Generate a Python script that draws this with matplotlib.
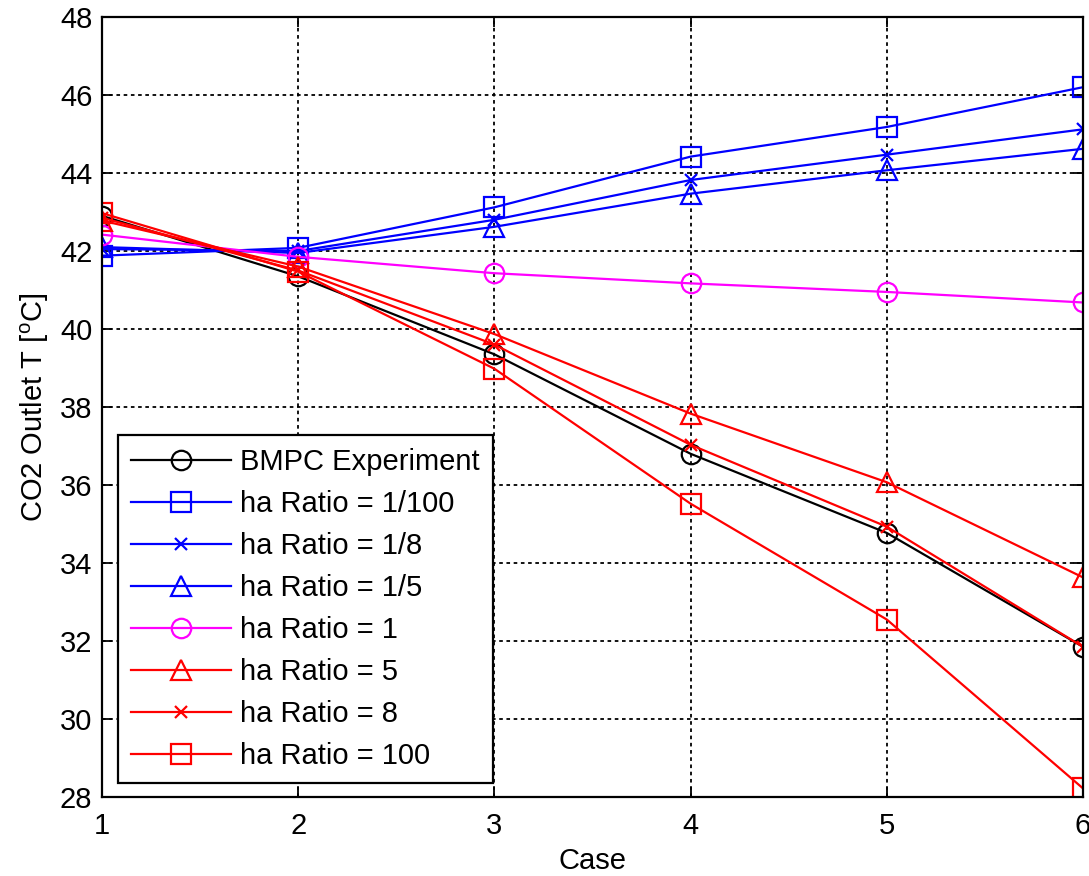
import matplotlib
matplotlib.use('Agg')
import matplotlib.pyplot as plt

plt.rcParams['font.family'] = ['Liberation Sans', 'DejaVu Sans']
plt.rcParams['mathtext.fontset'] = 'custom'
plt.rcParams['mathtext.rm'] = 'Liberation Sans'

# values
case = [1, 2, 3, 4, 5, 6]
bmpc = [42.9, 41.35, 39.35, 36.8, 34.77, 31.85]
ratio_1_100 = [41.88, 42.08, 43.12, 44.42, 45.18, 46.2]
ratio_1_8 = [42.05, 42.0, 42.8, 43.82, 44.47, 45.12]
ratio_1_5 = [42.1, 41.95, 42.62, 43.47, 44.07, 44.62]
ratio_1 = [42.42, 41.85, 41.43, 41.17, 40.95, 40.68]
ratio_5 = [42.78, 41.6, 39.87, 37.83, 36.07, 33.63]
ratio_8 = [42.85, 41.5, 39.6, 37.03, 34.93, 31.85]
ratio_100 = [42.97, 41.47, 38.98, 35.52, 32.55, 28.22]

fig = plt.figure(figsize=(10.89, 8.76), dpi=100)
ax = fig.add_axes([0.0937, 0.0902, 0.9008, 0.8904])

lw = 1.6
ms = 14
mw = 1.6
ax.plot(case, bmpc, 'k-o', lw=lw, ms=ms, mfc='none', mew=mw, label='BMPC Experiment')
ax.plot(case, ratio_1_100, '-s', color='#0000ff', lw=lw, ms=ms, mfc='none', mew=mw, label='ha Ratio = 1/100')
ax.plot(case, ratio_1_8, '-x', color='#0000ff', lw=lw, ms=8, mew=mw, label='ha Ratio = 1/8')
ax.plot(case, ratio_1_5, '-^', color='#0000ff', lw=lw, ms=ms, mfc='none', mew=mw, label='ha Ratio = 1/5')
ax.plot(case, ratio_1, '-o', color='#ff00ff', lw=lw, ms=ms, mfc='none', mew=mw, label='ha Ratio = 1')
ax.plot(case, ratio_5, '-^', color='#ff0000', lw=lw, ms=ms, mfc='none', mew=mw, label='ha Ratio = 5')
ax.plot(case, ratio_8, '-x', color='#ff0000', lw=lw, ms=8, mew=mw, label='ha Ratio = 8')
ax.plot(case, ratio_100, '-s', color='#ff0000', lw=lw, ms=ms, mfc='none', mew=mw, label='ha Ratio = 100')

ax.set_xlim(1, 6)
ax.set_ylim(28, 48)
ax.set_xticks(case)
ax.set_yticks(range(28, 49, 2))
ax.grid(True, color='k', linestyle=(0, (2, 2)), linewidth=1.3)
ax.tick_params(direction='in', top=True, right=True, labelsize=21, length=7, width=1.3)
ax.tick_params(axis='x', pad=11)
ax.tick_params(axis='y', pad=7)
for s in ax.spines.values():
    s.set_linewidth(1.6)

ax.set_xlabel('Case', fontsize=21, labelpad=5)
ax.set_ylabel('CO2 Outlet T [$^{\\rm o}$C]', fontsize=21, labelpad=6)

leg = ax.legend(loc='lower left', bbox_to_anchor=(0.016, 0.018), fontsize=21,
                handlelength=3.45, fancybox=False, framealpha=1, edgecolor='k',
                borderpad=0.45, labelspacing=0.48, handletextpad=0.3, borderaxespad=0)
leg.get_frame().set_linewidth(1.6)

fig.savefig('out.png', dpi=100)
